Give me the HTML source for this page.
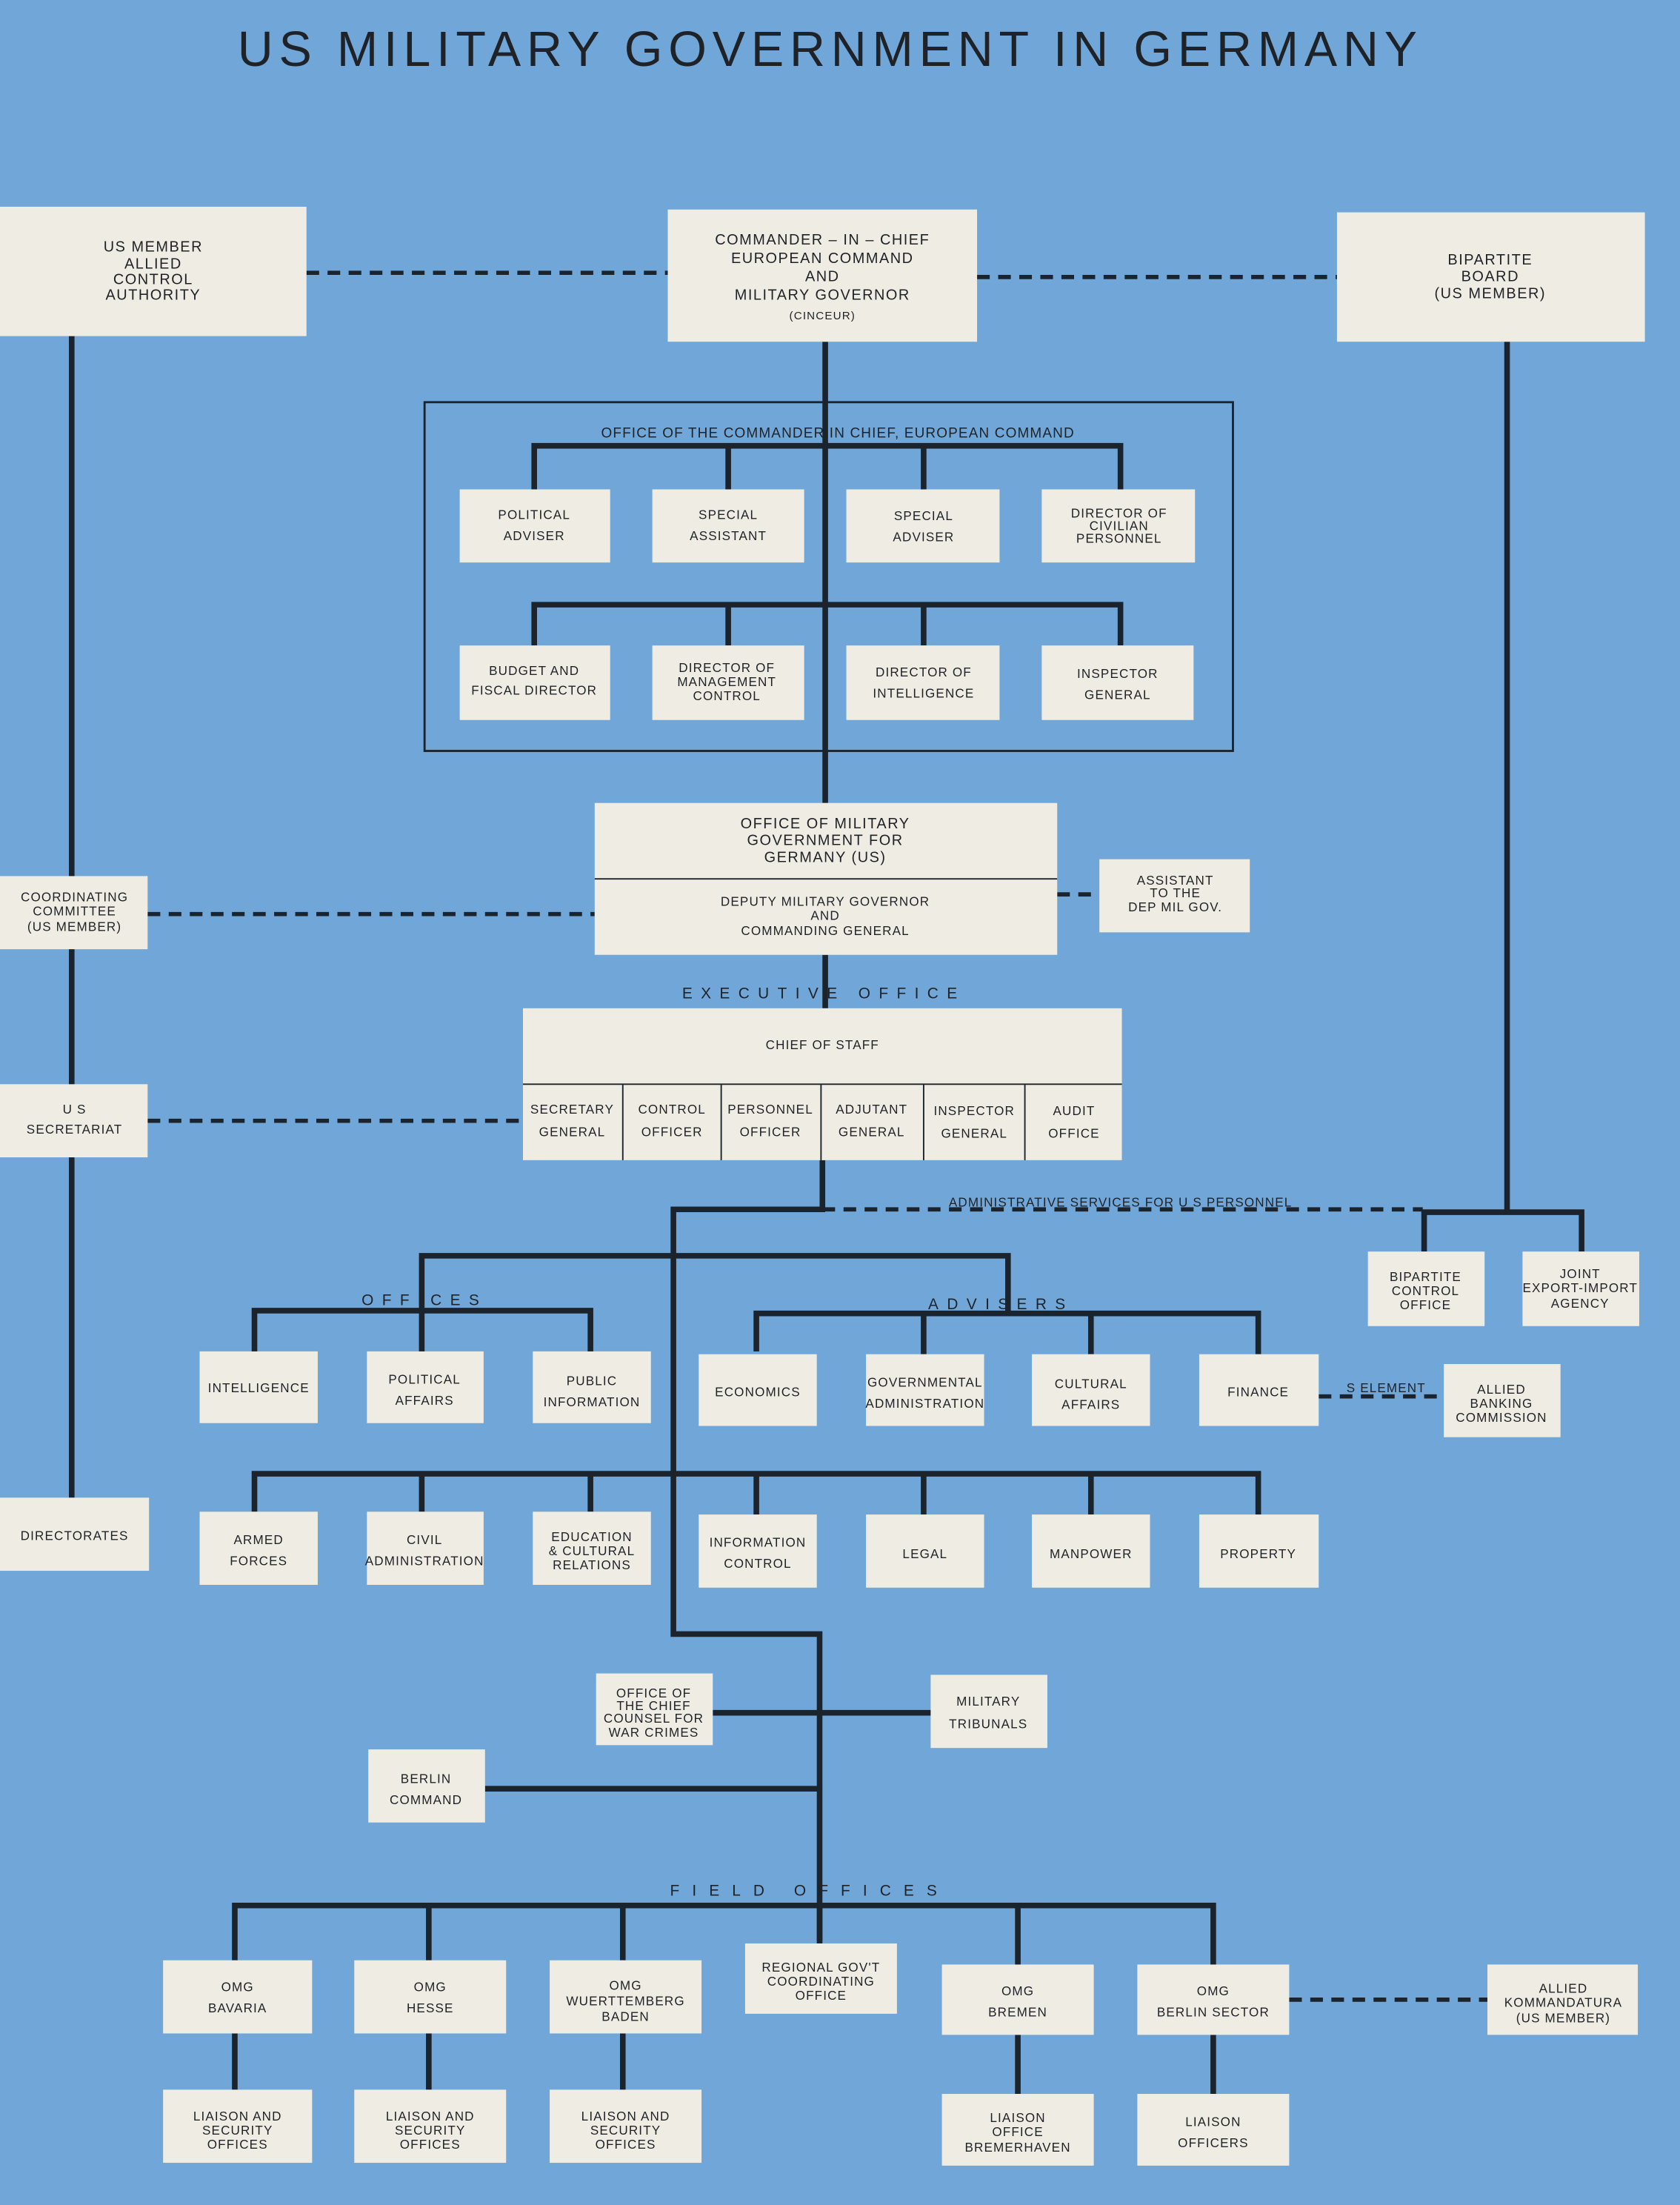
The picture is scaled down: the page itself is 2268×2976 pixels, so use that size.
<!DOCTYPE html>
<html><head><meta charset="utf-8"><style>
html,body{margin:0;padding:0;background:#70a7d8;}
svg{display:block}
text{font-family:"Liberation Sans",sans-serif;fill:#1f2328;text-anchor:middle}
.b{fill:#efede3}
.l{stroke:#1b232c;stroke-width:4;fill:none}
.d{stroke:#1b232c;stroke-width:3;fill:none;stroke-dasharray:9 6}
.s{font-size:9px;letter-spacing:0.6px}
.m{font-size:10.5px;letter-spacing:0.8px}
.lab{font-size:11px;letter-spacing:6px}
</style></head><body>
<svg width="2268" height="2976" viewBox="0 0 1195 1568" preserveAspectRatio="none">
<rect width="1195" height="1568" fill="#70a7d8"/>
<text x="590" y="47" style="font-size:35px;letter-spacing:3px" textLength="842">US MILITARY GOVERNMENT IN GERMANY</text>

<!-- lines -->
<path class="l" d="M51 239V1065 M1072 243V862 M587 243V571 M587 679V717 M585 825V860H479V1162H583V1380 M1013 890V862H1125V890"/>
<path class="l" d="M380 348V317H797V348 M518 317V348 M657 317V348 M380 459V430H797V459 M518 430V459 M657 430V459"/>
<path class="l" d="M300 932V893H717V934 M181 961V932H420V961 M300 932V961 M538 961V934H895V963 M657 934V963 M776 934V963"/>
<path class="l" d="M181 1075V1048H895V1077 M300 1048V1075 M420 1048V1075 M538 1048V1077 M657 1048V1077 M776 1048V1077"/>
<path class="l" d="M507 1218H662 M345 1272H583 M167 1394V1355H863V1397 M305 1355V1394 M443 1355V1394 M724 1355V1397 M583 1355V1382"/>
<path class="l" d="M167 1446V1486 M305 1446V1486 M443 1446V1486 M724 1447V1489 M863 1447V1489"/>
<path class="d" d="M218 194H475 M695 197H951 M105 650H423 M752 636H782 M105 797H372 M585 860H1012 M938 993H1027 M917 1422H1058"/>
<rect x="302" y="286" width="575" height="248" fill="none" stroke="#1b232c" stroke-width="1.5"/>

<!-- boxes -->
<g class="b">
<rect x="0" y="147" width="218" height="92"/><rect x="475" y="149" width="220" height="94"/><rect x="951" y="151" width="219" height="92"/>
<rect x="327" y="348" width="107" height="52"/><rect x="464" y="348" width="108" height="52"/><rect x="602" y="348" width="109" height="52"/><rect x="741" y="348" width="109" height="52"/>
<rect x="327" y="459" width="107" height="53"/><rect x="464" y="459" width="108" height="53"/><rect x="602" y="459" width="109" height="53"/><rect x="741" y="459" width="108" height="53"/>
<rect x="423" y="571" width="329" height="108"/><rect x="782" y="611" width="107" height="52"/><rect x="0" y="623" width="105" height="52"/>
<rect x="372" y="717" width="426" height="108"/><rect x="0" y="771" width="105" height="52"/>
<rect x="973" y="890" width="83" height="53"/><rect x="1083" y="890" width="83" height="53"/>
<rect x="142" y="961" width="84" height="51"/><rect x="261" y="961" width="83" height="51"/><rect x="379" y="961" width="84" height="51"/>
<rect x="497" y="963" width="84" height="51"/><rect x="616" y="963" width="84" height="51"/><rect x="734" y="963" width="84" height="51"/><rect x="853" y="963" width="85" height="51"/>
<rect x="1027" y="970" width="83" height="52"/>
<rect x="142" y="1075" width="84" height="52"/><rect x="261" y="1075" width="83" height="52"/><rect x="379" y="1075" width="84" height="52"/>
<rect x="497" y="1077" width="84" height="52"/><rect x="616" y="1077" width="84" height="52"/><rect x="734" y="1077" width="84" height="52"/><rect x="853" y="1077" width="85" height="52"/>
<rect x="0" y="1065" width="106" height="52"/>
<rect x="424" y="1190" width="83" height="51"/><rect x="662" y="1191" width="83" height="52"/><rect x="262" y="1244" width="83" height="52"/>
<rect x="116" y="1394" width="106" height="52"/><rect x="252" y="1394" width="108" height="52"/><rect x="391" y="1394" width="108" height="52"/><rect x="530" y="1382" width="108" height="50"/>
<rect x="670" y="1397" width="108" height="50"/><rect x="809" y="1397" width="108" height="50"/><rect x="1058" y="1397" width="107" height="50"/>
<rect x="116" y="1486" width="106" height="52"/><rect x="252" y="1486" width="108" height="52"/><rect x="391" y="1486" width="108" height="52"/>
<rect x="670" y="1489" width="108" height="51"/><rect x="809" y="1489" width="108" height="51"/>
</g>
<path d="M423 625H752 M372 771H798 M443 771V825 M513 771V825 M584 771V825 M657 771V825 M729 771V825" stroke="#1b232c" stroke-width="1"/>

<g class="m">
<text x="109" y="179">US MEMBER</text><text x="109" y="191">ALLIED</text><text x="109" y="202">CONTROL</text><text x="109" y="213">AUTHORITY</text>
<text x="585" y="174">COMMANDER – IN – CHIEF</text><text x="585" y="187">EUROPEAN COMMAND</text><text x="585" y="200">AND</text><text x="585" y="213">MILITARY GOVERNOR</text>
<text x="1060" y="188">BIPARTITE</text><text x="1060" y="200">BOARD</text><text x="1060" y="212">(US MEMBER)</text>
<text x="587" y="589">OFFICE OF MILITARY</text><text x="587" y="601">GOVERNMENT FOR</text><text x="587" y="613">GERMANY (US)</text>
</g>
<g class="s">
<text x="585" y="227" style="font-size:8px">(CINCEUR)</text>
<text x="596" y="311" style="font-size:10px">OFFICE OF THE COMMANDER IN CHIEF, EUROPEAN COMMAND</text>
<text x="380" y="369">POLITICAL</text><text x="380" y="384">ADVISER</text>
<text x="518" y="369">SPECIAL</text><text x="518" y="384">ASSISTANT</text>
<text x="657" y="370">SPECIAL</text><text x="657" y="385">ADVISER</text>
<text x="796" y="368">DIRECTOR OF</text><text x="796" y="377">CIVILIAN</text><text x="796" y="386">PERSONNEL</text>
<text x="380" y="480">BUDGET AND</text><text x="380" y="494">FISCAL DIRECTOR</text>
<text x="517" y="478">DIRECTOR OF</text><text x="517" y="488">MANAGEMENT</text><text x="517" y="498">CONTROL</text>
<text x="657" y="481">DIRECTOR OF</text><text x="657" y="496">INTELLIGENCE</text>
<text x="795" y="482">INSPECTOR</text><text x="795" y="497">GENERAL</text>
<text x="587" y="644">DEPUTY MILITARY GOVERNOR</text><text x="587" y="654">AND</text><text x="587" y="665">COMMANDING GENERAL</text>
<text x="836" y="629">ASSISTANT</text><text x="836" y="638">TO THE</text><text x="836" y="648">DEP MIL GOV.</text>
<text x="53" y="641">COORDINATING</text><text x="53" y="651">COMMITTEE</text><text x="53" y="662">(US MEMBER)</text>
<text x="586" y="710" class="lab">EXECUTIVE OFFICE</text>
<text x="585" y="746">CHIEF OF STAFF</text>
<text x="407" y="792">SECRETARY</text><text x="407" y="808">GENERAL</text>
<text x="478" y="792">CONTROL</text><text x="478" y="808">OFFICER</text>
<text x="548" y="792">PERSONNEL</text><text x="548" y="808">OFFICER</text>
<text x="620" y="792">ADJUTANT</text><text x="620" y="808">GENERAL</text>
<text x="693" y="793">INSPECTOR</text><text x="693" y="809">GENERAL</text>
<text x="764" y="793">AUDIT</text><text x="764" y="809">OFFICE</text>
<text x="53" y="792">U S</text><text x="53" y="806">SECRETARIAT</text>
<text x="797" y="858">ADMINISTRATIVE SERVICES FOR U S PERSONNEL</text>
<text x="1014" y="911">BIPARTITE</text><text x="1014" y="921">CONTROL</text><text x="1014" y="931">OFFICE</text>
<text x="1124" y="909">JOINT</text><text x="1124" y="919">EXPORT-IMPORT</text><text x="1124" y="930">AGENCY</text>
<text x="302" y="928" class="lab">OFFICES</text><text x="712" y="931" class="lab">ADVISERS</text>
<text x="184" y="990">INTELLIGENCE</text>
<text x="302" y="984">POLITICAL</text><text x="302" y="999">AFFAIRS</text>
<text x="421" y="985">PUBLIC</text><text x="421" y="1000">INFORMATION</text>
<text x="539" y="993">ECONOMICS</text>
<text x="658" y="986">GOVERNMENTAL</text><text x="658" y="1001">ADMINISTRATION</text>
<text x="776" y="987">CULTURAL</text><text x="776" y="1002">AFFAIRS</text>
<text x="895" y="993">FINANCE</text>
<text x="986" y="990">S ELEMENT</text>
<text x="1068" y="991">ALLIED</text><text x="1068" y="1001">BANKING</text><text x="1068" y="1011">COMMISSION</text>
<text x="184" y="1098">ARMED</text><text x="184" y="1113">FORCES</text>
<text x="302" y="1098">CIVIL</text><text x="302" y="1113">ADMINISTRATION</text>
<text x="421" y="1096">EDUCATION</text><text x="421" y="1106">&amp; CULTURAL</text><text x="421" y="1116">RELATIONS</text>
<text x="539" y="1100">INFORMATION</text><text x="539" y="1115">CONTROL</text>
<text x="658" y="1108">LEGAL</text><text x="776" y="1108">MANPOWER</text><text x="895" y="1108">PROPERTY</text>
<text x="53" y="1095">DIRECTORATES</text>
<text x="465" y="1207">OFFICE OF</text><text x="465" y="1216">THE CHIEF</text><text x="465" y="1225">COUNSEL FOR</text><text x="465" y="1235">WAR CRIMES</text>
<text x="703" y="1213">MILITARY</text><text x="703" y="1229">TRIBUNALS</text>
<text x="303" y="1268">BERLIN</text><text x="303" y="1283">COMMAND</text>
<text x="576" y="1348" class="lab" style="letter-spacing:9px">FIELD OFFICES</text>
<text x="169" y="1416">OMG</text><text x="169" y="1431">BAVARIA</text>
<text x="306" y="1416">OMG</text><text x="306" y="1431">HESSE</text>
<text x="445" y="1415">OMG</text><text x="445" y="1426">WUERTTEMBERG</text><text x="445" y="1437">BADEN</text>
<text x="584" y="1402">REGIONAL GOV'T</text><text x="584" y="1412">COORDINATING</text><text x="584" y="1422">OFFICE</text>
<text x="724" y="1419">OMG</text><text x="724" y="1434">BREMEN</text>
<text x="863" y="1419">OMG</text><text x="863" y="1434">BERLIN SECTOR</text>
<text x="1112" y="1417">ALLIED</text><text x="1112" y="1427">KOMMANDATURA</text><text x="1112" y="1438">(US MEMBER)</text>
<text x="169" y="1508">LIAISON AND</text><text x="169" y="1518">SECURITY</text><text x="169" y="1528">OFFICES</text>
<text x="306" y="1508">LIAISON AND</text><text x="306" y="1518">SECURITY</text><text x="306" y="1528">OFFICES</text>
<text x="445" y="1508">LIAISON AND</text><text x="445" y="1518">SECURITY</text><text x="445" y="1528">OFFICES</text>
<text x="724" y="1509">LIAISON</text><text x="724" y="1519">OFFICE</text><text x="724" y="1530">BREMERHAVEN</text>
<text x="863" y="1512">LIAISON</text><text x="863" y="1527">OFFICERS</text>
</g>
</svg>
</body></html>
